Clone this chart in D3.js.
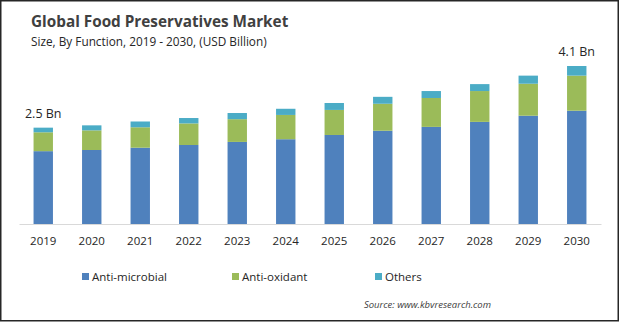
<!DOCTYPE html>
<html>
<head>
<meta charset="utf-8">
<script src="https://cdn.jsdelivr.net/npm/d3@7"></script>
<style>
  html, body { margin: 0; padding: 0; background: #fff; }
  svg { display: block; font-family: "Open Sans", sans-serif; }
</style>
</head>
<body>
<svg id="chart" width="620" height="322"></svg>
<script>
const years = ["2019", "2020", "2021", "2022", "2023", "2024", "2025", "2026", "2027", "2028", "2029", "2030"];
const antiMicrobial = [1.89, 1.92, 1.98, 2.05, 2.13, 2.20, 2.31, 2.42, 2.52, 2.65, 2.81, 2.94];
const antiOxidant = [0.49, 0.51, 0.53, 0.56, 0.59, 0.63, 0.65, 0.70, 0.75, 0.80, 0.83, 0.91];
const others = [0.12, 0.13, 0.15, 0.14, 0.16, 0.16, 0.18, 0.18, 0.18, 0.18, 0.21, 0.25];
const seriesNames = ["Anti-microbial", "Anti-oxidant", "Others"];
const seriesColors = ["#4f81bd", "#9bbb59", "#4bacc6"];
const valueLabels = [{ year: "2019", text: "2.5 Bn" }, { year: "2030", text: "4.1 Bn" }];

const svg = d3.select("#chart");

// frame around the whole graphic
svg.append("rect")
    .attr("x", 0.75).attr("y", 0.75)
    .attr("width", 617.5).attr("height", 320)
    .attr("fill", "none")
    .attr("stroke", "#262626")
    .attr("stroke-width", 1.5);

// titles
svg.append("text")
    .attr("x", 31).attr("y", 27)
    .attr("font-size", 15.3).attr("font-weight", "bold")
    .attr("fill", "#404040")
    .text("Global Food Preservatives Market");
svg.append("text")
    .attr("x", 31).attr("y", 46)
    .attr("font-size", 11.8)
    .attr("fill", "#262626")
    .text("Size, By Function, 2019 - 2030, (USD Billion)");

const rows = years.map((y, i) => ({
    year: y,
    "Anti-microbial": antiMicrobial[i],
    "Anti-oxidant": antiOxidant[i],
    "Others": others[i]
}));
const stacked = d3.stack().keys(seriesNames)(rows);

const x = d3.scaleBand()
    .domain(years)
    .range([19, 601])
    .paddingInner(0.6)
    .paddingOuter(0.3);

const y = d3.scaleLinear()
    .domain([0, 4.1])
    .range([224, 66]);

const color = d3.scaleOrdinal().domain(seriesNames).range(seriesColors);

// stacked bars
svg.append("g")
    .selectAll("g")
    .data(stacked)
    .join("g")
    .attr("fill", d => color(d.key))
    .selectAll("rect")
    .data(d => d)
    .join("rect")
    .attr("x", d => x(d.data.year))
    .attr("y", d => y(d[1]))
    .attr("width", x.bandwidth())
    .attr("height", d => y(d[0]) - y(d[1]));

// baseline and year labels
const xAxis = svg.append("g")
    .attr("transform", "translate(0,224)")
    .call(d3.axisBottom(x).tickSize(0).tickPadding(13).tickSizeOuter(0));
xAxis.select(".domain").attr("stroke", "#d9d9d9").attr("stroke-width", 1);
xAxis.selectAll("text")
    .attr("font-family", "Open Sans, sans-serif")
    .attr("font-size", 11.5)
    .attr("fill", "#262626");

// total labels
const totals = years.map((yr, i) => antiMicrobial[i] + antiOxidant[i] + others[i]);
svg.append("g")
    .selectAll("text")
    .data(valueLabels)
    .join("text")
    .attr("x", d => x(d.year) + x.bandwidth() / 2)
    .attr("y", d => y(totals[years.indexOf(d.year)]) - 10)
    .attr("text-anchor", "middle")
    .attr("font-size", 12.5)
    .attr("fill", "#262626")
    .text(d => d.text);

// legend
const legendX = [82, 232, 375];
const legend = svg.append("g")
    .selectAll("g")
    .data(seriesNames)
    .join("g")
    .attr("transform", (d, i) => `translate(${legendX[i]},273)`);
legend.append("rect")
    .attr("width", 7).attr("height", 7)
    .attr("fill", d => color(d));
legend.append("text")
    .attr("x", 10).attr("y", 7.5)
    .attr("font-size", 11.5)
    .attr("fill", "#262626")
    .text(d => d);

// source note
svg.append("text")
    .attr("x", 491).attr("y", 308)
    .attr("text-anchor", "end")
    .attr("font-size", 9.5)
    .attr("font-style", "italic")
    .attr("fill", "#404040")
    .text("Source: www.kbvresearch.com");
</script>
</body>
</html>
